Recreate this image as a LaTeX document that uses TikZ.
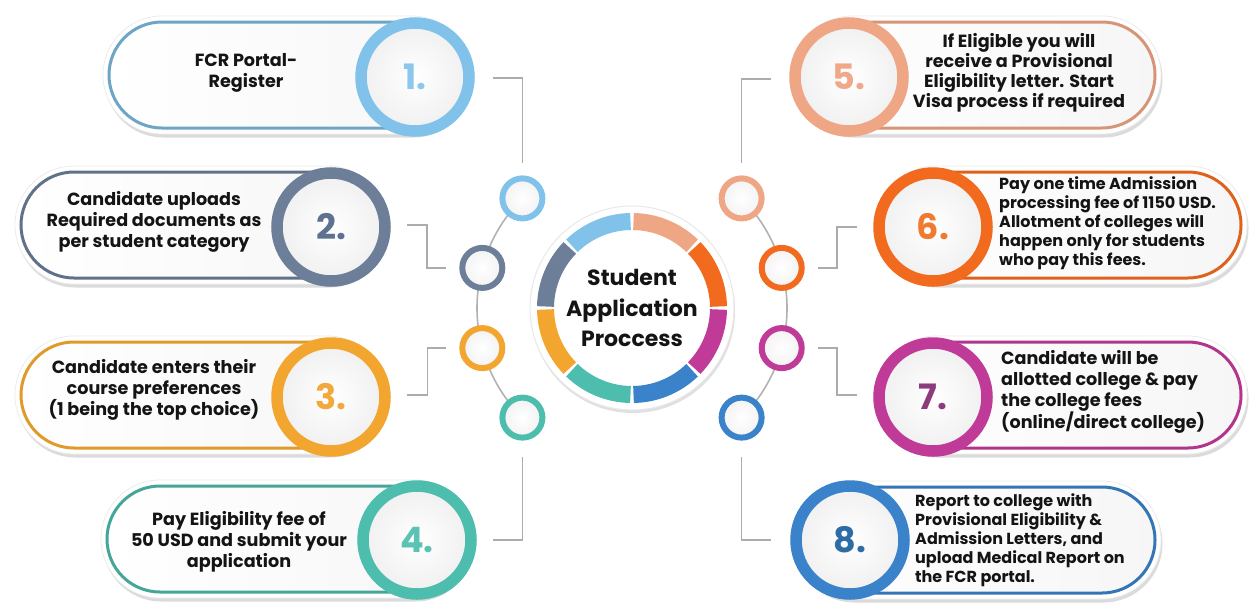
\documentclass[tikz,border=0pt]{standalone}
\usepackage{fontspec}
\setmainfont{Poppins}
\usetikzlibrary{shadows,calc}
\definecolor{cA}{HTML}{80C2EA}\definecolor{nA}{HTML}{8DC8EC}
\definecolor{cB}{HTML}{6C7E98}\definecolor{nB}{HTML}{5E7190}
\definecolor{cC}{HTML}{F3A62F}\definecolor{nC}{HTML}{F1A93C}
\definecolor{cD}{HTML}{4DBDAE}\definecolor{nD}{HTML}{5BC3B4}
\definecolor{cE}{HTML}{EEA684}\definecolor{nE}{HTML}{F0A888}
\definecolor{cF}{HTML}{F26A1E}\definecolor{nF}{HTML}{F07A30}
\definecolor{cG}{HTML}{C03A98}\definecolor{nG}{HTML}{8E3B7E}
\definecolor{cH}{HTML}{3A82C9}\definecolor{nH}{HTML}{2E6CA6}
\definecolor{txtcol}{HTML}{141414}
\newcommand\drawpill[4]{%
  \path[pillbody,rounded corners=59] (#2-6,#4-59) rectangle (#3+6,#4+59);
  \path[pillline,draw=#1,rounded corners=53] (#2,#4-53) rectangle (#3,#4+53);}
\tikzset{
  pillbody/.style={fill=white, draw=gray!15, line width=0.8,
    drop shadow={shadow xshift=1.5pt, shadow yshift=-3.5pt, opacity=0.35, fill=gray!80}},
  pillline/.style={line width=3, left color=white, right color=gray!7},
  bigc/.style={circle, minimum size=108, line width=11.5, inner sep=0,
    inner color=white, outer color=gray!12,
    drop shadow={shadow xshift=-2pt, shadow yshift=-3pt, opacity=0.3, fill=gray!80},
    font=\fontsize{35}{35}\selectfont\bfseries},
  smallc/.style={circle, minimum size=40, line width=6, inner sep=0,
    inner color=white, outer color=gray!10},
  txt/.style={text=txtcol, inner sep=0},
  big/.style={txt, font=\fontsize{17.6}{21}\selectfont\bfseries},
  mid/.style={txt, font=\fontsize{17.6}{20}\selectfont\bfseries},
  small/.style={txt, font=\fontsize{16}{19}\selectfont\bfseries},
  elbow/.style={draw=gray!65, line width=1.6},
  chain/.style={draw=gray!60, line width=1.6},
  seg/.style={line width=17},
}
\begin{document}
\begin{tikzpicture}[x=1pt,y=-1pt]
\useasboundingbox (0,0) rectangle (1249,606);
\fill[white] (0,0) rectangle (1249,606);

% pills
\drawpill{cA!85!black}{109}{465}{75}
\drawpill{cB!90!black}{21}{381}{225}
\drawpill{cC!92!black}{21}{381}{395}
\drawpill{cD!88!black}{107}{467}{539}
\drawpill{cE!90!black}{799}{1155}{75}
\drawpill{cF!92!black}{883}{1241}{225}
\drawpill{cG!92!black}{883}{1241}{395}
\drawpill{cH!90!black}{800}{1155}{540}

% big number circles
\node[bigc, draw=cA, text=nA] (n1) at (415,77) {1.};
\node[bigc, draw=cB, text=nB] (n2) at (331,227) {2.};
\node[bigc, draw=cC, text=nC] (n3) at (331,397) {3.};
\node[bigc, draw=cD, text=nD] (n4) at (417,540) {4.};
\node[bigc, draw=cE, text=nE] (n5) at (849,77) {5.};
\node[bigc, draw=cF, text=nF] (n6) at (933,227) {6.};
\node[bigc, draw=cG, text=nG] (n7) at (933,397) {7.};
\node[bigc, draw=cH, text=nH] (n8) at (850,540) {8.};

% texts
\node[big, align=center] (t1) at (246,73) {FCR Portal-\\Register};
\node[big, align=center] (t2) at (154,222) {Candidate uploads\\Required documents as\\per student category};
\node[big, align=center] (t3) at (154,390) {Candidate enters their\\course preferences\\(1 being the top choice)};
\node[big, align=center] (t4) at (239,542) {Pay Eligibility fee of\\50 USD and submit your\\application};
\node[mid, align=center] (t5) at (1019,73) {If Eligible you will\\receive a Provisional\\Eligibility letter. Start\\Visa process if required};
\node[small, align=left, anchor=west] (t6) at (999,223) {Pay one time Admission\\processing fee of 1150 USD.\\Allotment of colleges will\\happen only for students\\who pay this fees.};
\node[big, align=left, anchor=west] (t7) at (1001,392) {Candidate will be\\allotted college \& pay\\the college fees\\(online/direct college)};
\node[small, align=left, anchor=west] (t8) at (915,540) {Report to college with\\Provisional Eligibility \&\\Admission Letters, and\\upload Medical Report on\\the FCR portal.};

% centre disc
\node[circle, minimum size=204, inner sep=0, fill=white, draw=gray!18, line width=1,
  drop shadow={shadow xshift=1pt, shadow yshift=-3pt, opacity=0.3, fill=gray!80}] (hub) at (632,308) {};
\begin{scope}[shift={(632,308)},yscale=-1]
  \draw[seg, cA] (91:86.5) arc[start angle=91, end angle=134, radius=86.5];
  \draw[seg, cB] (136:86.5) arc[start angle=136, end angle=179, radius=86.5];
  \draw[seg, cC] (181:86.5) arc[start angle=181, end angle=224, radius=86.5];
  \draw[seg, cD] (226:86.5) arc[start angle=226, end angle=269, radius=86.5];
  \draw[seg, cH] (271:86.5) arc[start angle=271, end angle=314, radius=86.5];
  \draw[seg, cG] (316:86.5) arc[start angle=316, end angle=359, radius=86.5];
  \draw[seg, cF] (1:86.5) arc[start angle=1, end angle=44, radius=86.5];
  \draw[seg, cE] (46:86.5) arc[start angle=46, end angle=89, radius=86.5];
\end{scope}
\node[font=\fontsize{22}{30.5}\selectfont\bfseries, align=center, text=txtcol] (hubtxt) at (632,308) {Student\\Application\\Proccess};

% small circles
\coordinate (s1c) at (522.4,198.4);
\coordinate (s4c) at (522.4,417.6);
\coordinate (s5c) at (741.6,198.4);
\coordinate (s8c) at (741.6,417.6);
\draw[chain] (s1c) arc[start angle=-135, end angle=-225, radius=155];
\draw[chain] (s5c) arc[start angle=-45, end angle=45, radius=155];
\node[smallc, draw=cA] (s1) at (s1c) {};
\node[smallc, draw=cB] (s2) at (482.3,267.9) {};
\node[smallc, draw=cC] (s3) at (482.3,348.1) {};
\node[smallc, draw=cD] (s4) at (s4c) {};
\node[smallc, draw=cE] (s5) at (s5c) {};
\node[smallc, draw=cF] (s6) at (781.7,267.9) {};
\node[smallc, draw=cG] (s7) at (781.7,348.1) {};
\node[smallc, draw=cH] (s8) at (s8c) {};

% elbow connectors
\coordinate (a1) at (493,78);
\coordinate (a2) at (407,225);
\coordinate (a3) at (407,395);
\coordinate (a4) at (493,540);
\coordinate (a5) at (771,79);
\coordinate (a6) at (857,227);
\coordinate (a7) at (857,395);
\coordinate (a8) at (771,540);
\draw[elbow] (a1) -| ([yshift=12pt]s1.north);
\draw[elbow] (a2) -- ++(20,0) |- ([xshift=-13pt]s2.west);
\draw[elbow] ([xshift=-13pt]s3.west) -- ++(-19,0) |- (a3);
\draw[elbow] ([yshift=-16pt]s4.south) |- (a4);
\draw[elbow] ([yshift=12pt]s5.north) |- (a5);
\draw[elbow] ([xshift=13pt]s6.east) -- ++(19,0) |- (a6);
\draw[elbow] ([xshift=13pt]s7.east) -- ++(19,0) |- (a7);
\draw[elbow] ([yshift=-16pt]s8.south) |- (a8);
\end{tikzpicture}
\end{document}
